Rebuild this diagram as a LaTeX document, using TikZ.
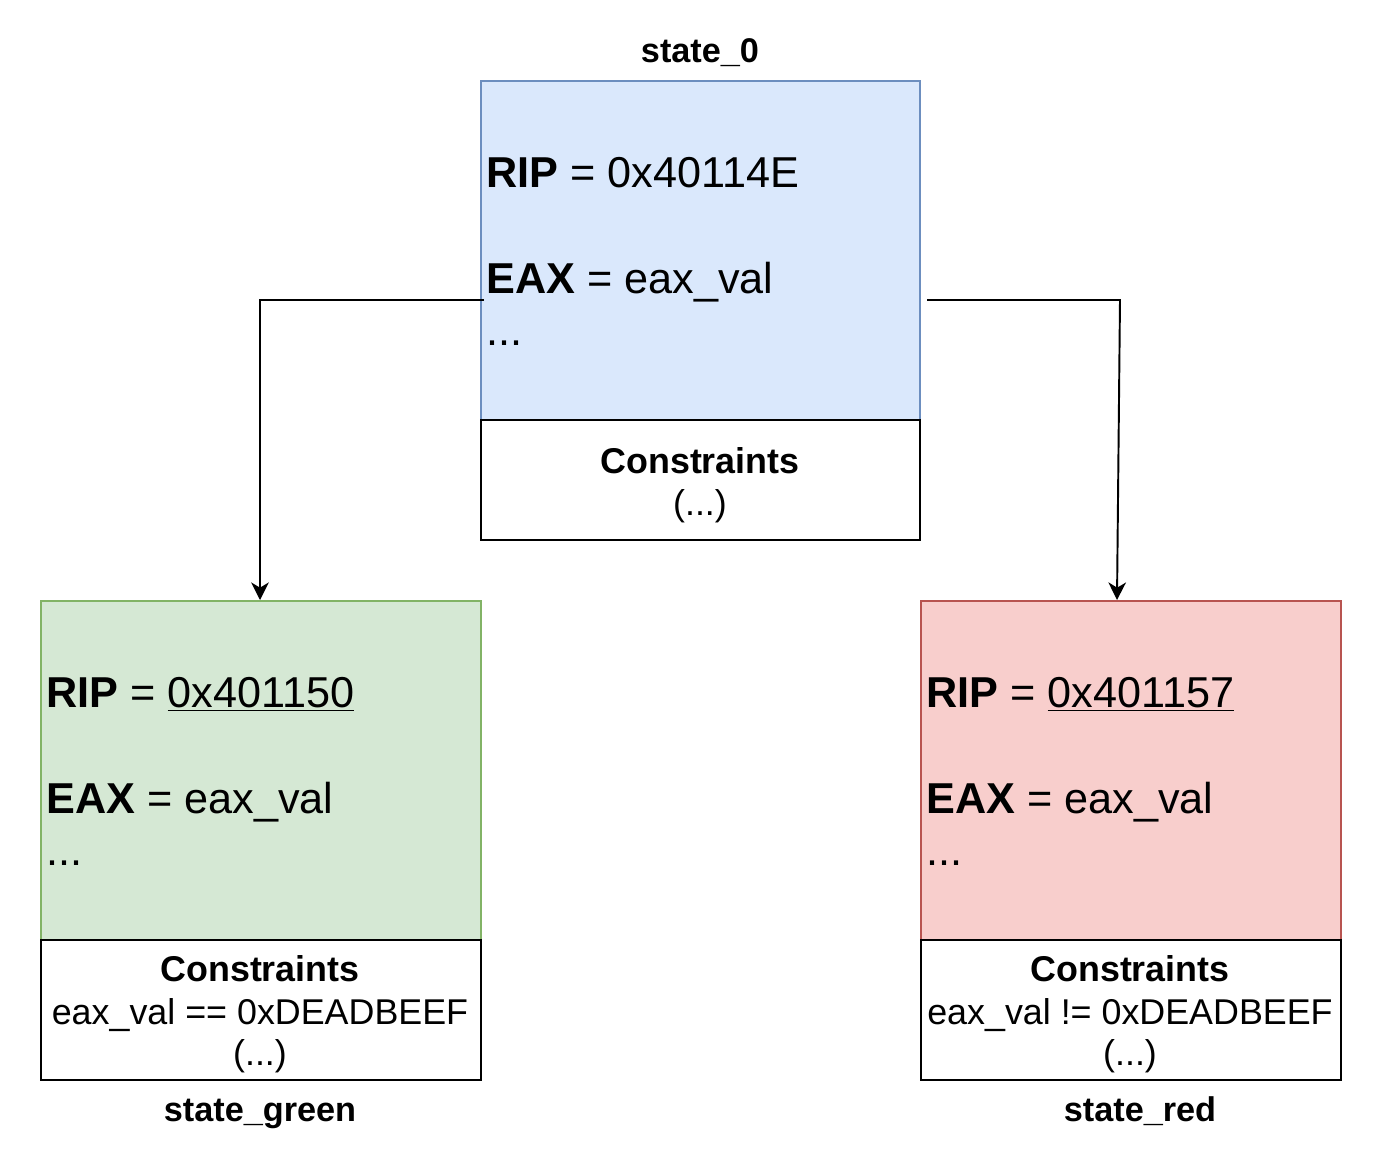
\documentclass[tikz,border=0pt]{standalone}
\usepackage{fontspec}
\setmainfont{Liberation Sans}
\usetikzlibrary{arrows.meta}
\definecolor{blueFill}{HTML}{DAE8FC}
\definecolor{blueLine}{HTML}{6C8EBF}
\definecolor{greenFill}{HTML}{D5E8D4}
\definecolor{greenLine}{HTML}{82B366}
\definecolor{redFill}{HTML}{F8CECC}
\definecolor{redLine}{HTML}{B85450}
\tikzset{
  regs/.style={draw=#1Line, fill=#1Fill, line width=1pt, minimum height=6.78cm, inner sep=0pt},
  cons/.style={draw, fill=white, line width=1pt, inner sep=0pt},
  big/.style={anchor=base west, inner sep=0pt, font=\fontsize{24.6}{28}\selectfont},
  small/.style={anchor=base, inner sep=0pt, font=\fontsize{20.4}{24}\selectfont},
  title/.style={anchor=base, inner sep=0pt, font=\fontsize{19.5}{23}\selectfont\bfseries},
  link/.style={line width=1.1pt, -{Stealth[length=10pt,width=10pt,inset=3pt]}}
}
\begin{document}
\begin{tikzpicture}[x=0.02cm, y=-0.02cm]
\useasboundingbox (0,0) rectangle (1380,1160);

\node[regs=blue, minimum width=8.78cm] (s0) at (700.5,250.5) {};
\node[cons, minimum width=8.78cm, minimum height=2.4cm] (s0c) at (700.5,480) {};
\node[regs=green, minimum width=8.8cm] (sg) at (261,770.5) {};
\node[cons, minimum width=8.8cm, minimum height=2.8cm] (sgc) at (261,1010) {};
\node[regs=red, minimum width=8.4cm] (sr) at (1131,770.5) {};
\node[cons, minimum width=8.4cm, minimum height=2.8cm] (src) at (1131,1010) {};

\node[title] (t0) at (700,62) {state\_0};
\node[title] (tg) at (260,1121) {state\_green};
\node[title] (tr) at (1140,1121) {state\_red};

\node[big] (rip0) at (486,187) {\textbf{RIP} = 0x40114E};
\node[big] (eax0) at (486,293) {\textbf{EAX} = eax\_val};
\node[big] (dot0) at (486,345) {...};
\node[small] (c0) at (700,473) {\textbf{Constraints}};
\node[small] (c0b) at (700,515) {(...)};

\node[big] (ripg) at (46,707) {\textbf{RIP} = \underline{0x401150}};
\node[big] (eaxg) at (46,813) {\textbf{EAX} = eax\_val};
\node[big] (dotg) at (46,865) {...};
\node[small] (cg) at (260,981) {\textbf{Constraints}};
\node[small] (cgb) at (260,1024) {eax\_val == 0xDEADBEEF};
\node[small] (cgc) at (260,1065) {(...)};

\node[big] (ripr) at (926,707) {\textbf{RIP} = \underline{0x401157}};
\node[big] (eaxr) at (926,813) {\textbf{EAX} = eax\_val};
\node[big] (dotr) at (926,865) {...};
\node[small] (cr) at (1130,981) {\textbf{Constraints}};
\node[small] (crb) at (1130,1024) {eax\_val != 0xDEADBEEF};
\node[small] (crc) at (1130,1065) {(...)};

\coordinate (outl) at (484,300);
\coordinate (outr) at (927,300);
\coordinate (inl) at (260,600);
\coordinate (inr) at (1117,600);
\draw[link] (outl) -| (inl);
\draw[link] (outr) -- (1120,300) -- (inr);
\end{tikzpicture}
\end{document}
